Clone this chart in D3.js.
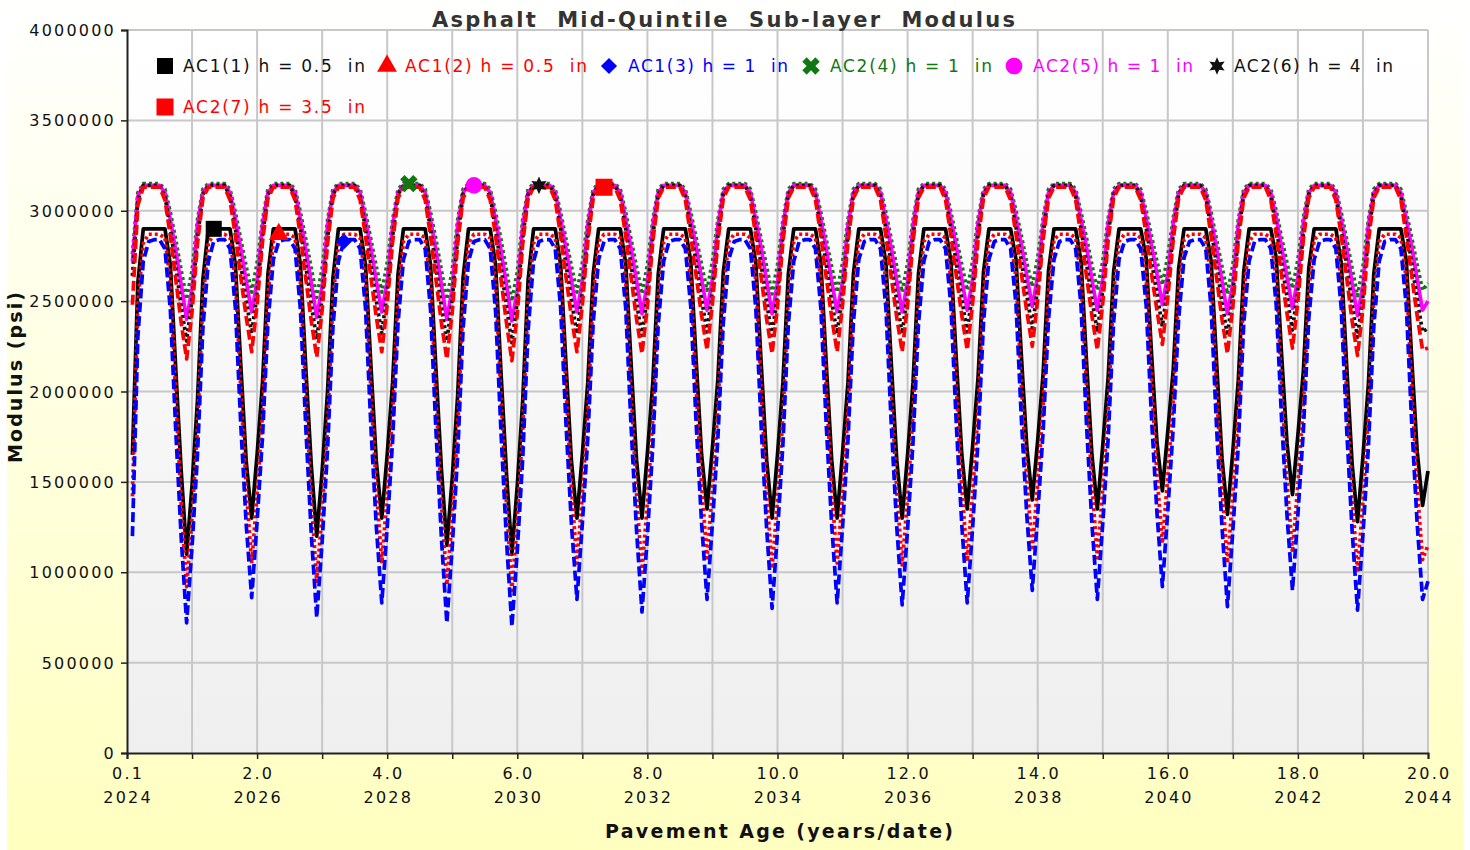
<!DOCTYPE html>
<html><head><meta charset="utf-8">
<script src="https://cdn.jsdelivr.net/npm/d3@7"></script>
<style>
body{margin:0;background:#fff;}
svg{display:block;}
text{font-family:"DejaVu Sans",Verdana,sans-serif;white-space:pre;}
</style></head><body>
<svg id="chart" width="1470" height="850"></svg>
<script>
// ---------------- DATA ----------------
const chartTitle = "Asphalt  Mid-Quintile  Sub-layer  Modulus";
const xAxisTitle = "Pavement Age (years/date)";
const yAxisTitle = "Modulus (psi)";
const seriesLabels = ["AC1(1) h = 0.5  in","AC1(2) h = 0.5  in","AC1(3) h = 1  in","AC2(4) h = 1  in","AC2(5) h = 1  in","AC2(6) h = 4  in","AC2(7) h = 3.5  in"];
const ageTickLabels = ["0.1","2.0","4.0","6.0","8.0","10.0","12.0","14.0","16.0","18.0","20.0"];
const yearTickLabels = ["2024","2026","2028","2030","2032","2034","2036","2038","2040","2042","2044"];
const yTickValues = [0,500000,1000000,1500000,2000000,2500000,3000000,3500000,4000000];
// monthly modulus values (ksi), month 1 .. month 240 of pavement life
const ac1_1 = [
1650,2600,2900,2900,2900,2900,2900,2700,2120,1560,1100,1480,
1950,2620,2900,2900,2900,2900,2900,2700,2140,1610,1300,1650,
2050,2650,2900,2900,2900,2900,2900,2700,2120,1590,1200,1560,
2000,2630,2900,2900,2900,2900,2900,2700,2140,1610,1300,1650,
2050,2650,2900,2900,2900,2900,2900,2700,2120,1570,1150,1520,
1980,2630,2900,2900,2900,2900,2900,2700,2100,1550,1100,1480,
1950,2620,2900,2900,2900,2900,2900,2700,2140,1610,1300,1650,
2050,2650,2900,2900,2900,2900,2900,2710,2150,1620,1300,1660,
2050,2650,2900,2900,2900,2900,2900,2720,2170,1650,1350,1690,
2070,2660,2900,2900,2900,2900,2900,2710,2150,1620,1300,1650,
2050,2650,2900,2900,2900,2900,2900,2710,2150,1620,1300,1660,
2050,2650,2900,2900,2900,2900,2900,2710,2150,1620,1300,1650,
2050,2650,2900,2900,2900,2900,2900,2720,2170,1650,1350,1700,
2080,2660,2900,2900,2900,2900,2900,2730,2190,1690,1400,1730,
2100,2670,2900,2900,2900,2900,2900,2720,2170,1650,1350,1700,
2080,2660,2900,2900,2900,2900,2900,2740,2210,1720,1450,1780,
2120,2680,2900,2900,2900,2900,2900,2720,2160,1630,1320,1670,
2060,2660,2900,2900,2900,2900,2900,2740,2200,1710,1430,1760,
2110,2680,2900,2900,2900,2900,2900,2710,2140,1600,1280,1640,
2040,2650,2900,2900,2900,2900,2900,2720,2180,1670,1370,1560];
const ac1_2 = [
1420,2480,2820,2870,2870,2870,2850,2600,1970,1380,920,1300,
1800,2500,2820,2870,2870,2870,2850,2610,2000,1460,1050,1430,
1880,2530,2830,2870,2870,2870,2850,2600,1980,1410,950,1340,
1820,2510,2820,2870,2870,2870,2850,2610,2000,1460,1050,1430,
1880,2530,2830,2870,2870,2870,2850,2600,1970,1390,930,1310,
1800,2500,2820,2870,2870,2870,2850,2600,1960,1380,900,1290,
1790,2500,2820,2870,2870,2870,2850,2610,2000,1460,1050,1430,
1880,2530,2830,2870,2870,2870,2850,2610,1990,1430,1000,1390,
1850,2520,2830,2870,2870,2870,2850,2620,2010,1480,1080,1460,
1900,2540,2830,2870,2870,2870,2850,2610,1990,1440,1020,1400,
1860,2520,2830,2870,2870,2870,2850,2610,2000,1460,1050,1430,
1880,2530,2830,2870,2870,2870,2850,2610,2000,1450,1040,1420,
1870,2530,2830,2870,2870,2870,2850,2620,2010,1470,1060,1440,
1890,2540,2830,2870,2870,2870,2850,2630,2030,1510,1120,1490,
1920,2550,2840,2870,2870,2870,2850,2620,2020,1490,1080,1460,
1900,2540,2830,2870,2870,2870,2850,2640,2050,1540,1160,1530,
1950,2560,2840,2870,2870,2870,2850,2610,2000,1460,1050,1430,
1880,2530,2830,2870,2870,2870,2850,2630,2030,1500,1110,1490,
1920,2550,2840,2870,2870,2870,2850,2610,1980,1430,1000,1390,
1850,2520,2830,2870,2870,2870,2850,2620,2010,1470,1070,1150];
const ac1_3 = [
1200,2300,2720,2830,2840,2840,2790,2450,1780,1190,720,1140,
1650,2350,2720,2830,2840,2840,2790,2460,1810,1260,860,1280,
1750,2380,2730,2830,2840,2840,2790,2450,1790,1210,750,1170,
1680,2360,2720,2830,2840,2840,2790,2460,1800,1250,830,1250,
1730,2380,2730,2830,2840,2840,2790,2450,1780,1190,720,1140,
1650,2350,2720,2830,2840,2840,2790,2440,1770,1180,700,1120,
1630,2340,2720,2830,2840,2840,2790,2460,1810,1260,850,1270,
1740,2380,2730,2830,2840,2840,2790,2460,1800,1230,780,1200,
1700,2370,2720,2830,2840,2840,2790,2470,1820,1270,850,1270,
1740,2380,2730,2830,2840,2840,2790,2460,1800,1240,800,1220,
1710,2370,2720,2830,2840,2840,2790,2460,1810,1260,830,1250,
1730,2380,2730,2830,2840,2840,2790,2460,1810,1250,820,1240,
1720,2370,2720,2830,2840,2840,2790,2470,1810,1260,830,1250,
1730,2380,2730,2830,2840,2840,2790,2480,1840,1310,900,1320,
1780,2400,2730,2830,2840,2840,2790,2470,1820,1270,850,1270,
1740,2380,2730,2830,2840,2840,2790,2480,1850,1330,920,1340,
1800,2400,2740,2830,2840,2840,2790,2460,1800,1250,810,1230,
1700,2370,2720,2830,2840,2840,2790,2480,1840,1310,900,1320,
1780,2400,2730,2830,2840,2840,2790,2460,1790,1230,790,1210,
1690,2360,2720,2830,2840,2840,2790,2470,1820,1270,850,950];
const ac2_4 = [
2760,3100,3150,3150,3150,3150,3120,2990,2840,2670,2510,2670,
2950,3120,3150,3150,3150,3150,3120,2990,2840,2690,2550,2710,
2950,3120,3150,3150,3150,3150,3120,2990,2840,2680,2520,2680,
2950,3120,3150,3150,3150,3150,3120,2990,2840,2690,2550,2710,
2950,3120,3150,3150,3150,3150,3120,2990,2840,2670,2510,2670,
2950,3120,3150,3150,3150,3150,3120,2990,2840,2670,2500,2660,
2950,3120,3150,3150,3150,3150,3120,2990,2840,2690,2550,2710,
2950,3120,3150,3150,3150,3150,3120,2990,2840,2690,2540,2700,
2950,3120,3150,3150,3150,3150,3120,2990,2850,2700,2560,2720,
2950,3120,3150,3150,3150,3150,3120,2990,2840,2690,2540,2700,
2950,3120,3150,3150,3150,3150,3120,2990,2840,2690,2550,2710,
2950,3120,3150,3150,3150,3150,3120,2990,2840,2690,2550,2710,
2950,3120,3150,3150,3150,3150,3120,2990,2850,2700,2560,2720,
2960,3120,3150,3150,3150,3150,3120,3000,2860,2710,2580,2740,
2960,3120,3150,3150,3150,3150,3120,2990,2850,2700,2560,2720,
2960,3120,3150,3150,3150,3150,3120,3000,2860,2720,2590,2750,
2960,3120,3150,3150,3150,3150,3120,2990,2840,2690,2540,2700,
2950,3120,3150,3150,3150,3150,3120,3000,2850,2710,2570,2730,
2960,3120,3150,3150,3150,3150,3120,2990,2840,2680,2530,2690,
2950,3120,3150,3150,3150,3150,3120,2990,2850,2700,2560,2600];
const ac2_5 = [
2720,3080,3140,3140,3140,3140,3100,2950,2780,2590,2400,2570,
2920,3100,3140,3140,3140,3140,3100,2950,2790,2610,2440,2610,
2920,3100,3140,3140,3140,3140,3100,2950,2780,2600,2410,2580,
2920,3100,3140,3140,3140,3140,3100,2950,2790,2610,2440,2610,
2920,3100,3140,3140,3140,3140,3100,2950,2780,2590,2400,2570,
2920,3100,3140,3140,3140,3140,3100,2950,2780,2590,2390,2560,
2920,3100,3140,3140,3140,3140,3100,2950,2790,2610,2440,2610,
2920,3100,3140,3140,3140,3140,3100,2950,2790,2610,2430,2600,
2920,3100,3140,3140,3140,3140,3100,2950,2800,2620,2450,2620,
2920,3100,3140,3140,3140,3140,3100,2950,2790,2610,2430,2600,
2920,3100,3140,3140,3140,3140,3100,2950,2790,2610,2440,2610,
2920,3100,3140,3140,3140,3140,3100,2950,2790,2610,2440,2610,
2920,3100,3140,3140,3140,3140,3100,2950,2800,2620,2450,2620,
2930,3100,3140,3140,3140,3140,3100,2960,2810,2640,2470,2640,
2930,3100,3140,3140,3140,3140,3100,2950,2800,2620,2450,2620,
2930,3100,3140,3140,3140,3140,3100,2960,2810,2650,2480,2650,
2930,3100,3140,3140,3140,3140,3100,2950,2790,2610,2430,2600,
2920,3100,3140,3140,3140,3140,3100,2960,2800,2630,2460,2630,
2930,3100,3140,3140,3140,3140,3100,2950,2790,2600,2420,2590,
2920,3100,3140,3140,3140,3140,3100,2950,2800,2620,2450,2500];
const ac2_6 = [
2640,3060,3140,3140,3140,3140,3080,2900,2690,2470,2280,2510,
2850,3090,3140,3140,3140,3140,3080,2900,2700,2500,2320,2550,
2860,3090,3140,3140,3140,3140,3080,2900,2690,2480,2290,2520,
2850,3090,3140,3140,3140,3140,3080,2900,2700,2500,2320,2550,
2860,3090,3140,3140,3140,3140,3080,2900,2690,2470,2280,2510,
2850,3090,3140,3140,3140,3140,3080,2900,2690,2470,2270,2500,
2850,3090,3140,3140,3140,3140,3080,2900,2700,2500,2320,2550,
2860,3090,3140,3140,3140,3140,3080,2900,2700,2490,2310,2540,
2860,3090,3140,3140,3140,3140,3080,2900,2710,2510,2330,2560,
2860,3090,3140,3140,3140,3140,3080,2900,2700,2490,2310,2540,
2860,3090,3140,3140,3140,3140,3080,2900,2700,2500,2320,2550,
2860,3090,3140,3140,3140,3140,3080,2900,2700,2500,2320,2550,
2860,3090,3140,3140,3140,3140,3080,2900,2710,2510,2330,2560,
2870,3090,3140,3140,3140,3140,3080,2910,2720,2530,2350,2580,
2870,3090,3140,3140,3140,3140,3080,2900,2710,2510,2330,2560,
2870,3090,3140,3140,3140,3140,3080,2910,2720,2540,2360,2590,
2870,3090,3140,3140,3140,3140,3080,2900,2700,2490,2310,2540,
2860,3090,3140,3140,3140,3140,3080,2910,2710,2520,2340,2570,
2870,3090,3140,3140,3140,3140,3080,2900,2700,2480,2300,2530,
2860,3090,3140,3140,3140,3140,3080,2900,2710,2510,2330,2350];
const ac2_7 = [
2480,3030,3130,3130,3130,3130,3060,2860,2620,2380,2180,2440,
2820,3070,3130,3130,3130,3130,3060,2860,2630,2410,2220,2480,
2830,3070,3130,3130,3130,3130,3060,2860,2620,2390,2190,2450,
2820,3070,3130,3130,3130,3130,3060,2860,2630,2410,2220,2480,
2830,3070,3130,3130,3130,3130,3060,2860,2620,2380,2180,2440,
2820,3070,3130,3130,3130,3130,3060,2860,2620,2380,2170,2430,
2820,3070,3130,3130,3130,3130,3060,2860,2630,2410,2220,2480,
2830,3070,3130,3130,3130,3130,3060,2860,2630,2400,2210,2470,
2830,3070,3130,3130,3130,3130,3060,2860,2640,2420,2230,2490,
2830,3070,3130,3130,3130,3130,3060,2860,2630,2400,2210,2470,
2830,3070,3130,3130,3130,3130,3060,2860,2630,2410,2220,2480,
2830,3070,3130,3130,3130,3130,3060,2860,2630,2410,2220,2480,
2830,3070,3130,3130,3130,3130,3060,2860,2640,2420,2230,2490,
2840,3070,3130,3130,3130,3130,3060,2870,2650,2440,2250,2510,
2840,3070,3130,3130,3130,3130,3060,2860,2640,2420,2230,2490,
2840,3070,3130,3130,3130,3130,3060,2870,2650,2450,2260,2520,
2840,3070,3130,3130,3130,3130,3060,2860,2630,2400,2210,2470,
2830,3070,3130,3130,3130,3130,3060,2870,2640,2430,2240,2500,
2840,3070,3130,3130,3130,3130,3060,2860,2630,2390,2200,2460,
2830,3070,3130,3130,3130,3130,3060,2860,2640,2420,2230,2240];
const seriesValues = [ac1_1, ac1_2, ac1_3, ac2_4, ac2_5, ac2_6, ac2_7];
// index of the data point carrying each series' on-curve marker
const markerIndex = [15, 27, 39, 51, 63, 75, 87];

// ---------------- STYLE ----------------
const colors = ["#000000","#ff0000","#0000ff","#117711","#ff00ff","#111111","#ff0000"];
const dashes = [null,"3,3","10,4","3,3",null,"3,3","10,4"];
const textColors = ["#111","#ff0000","#0000ff","#117711","#ff00ff","#111","#ff0000"];

const star6 = {draw(ctx, size){
  const R = Math.sqrt(size)/1.6, r = R*0.5;
  for(let i=0;i<12;i++){
    const a = -Math.PI/2 + i*Math.PI/6, rr = i%2?r:R;
    const px = rr*Math.cos(a), py = rr*Math.sin(a);
    if(i===0) ctx.moveTo(px,py); else ctx.lineTo(px,py);
  }
  ctx.closePath();
}};
const markers = [
  {type:d3.symbolSquare, size:256, rot:0},
  {type:d3.symbolTriangle, size:170, rot:0},
  {type:d3.symbolSquare, size:130, rot:45},
  {type:d3.symbolCross, size:190, rot:45},
  {type:d3.symbolCircle, size:220, rot:0},
  {type:star6, size:200, rot:0},
  {type:d3.symbolSquare, size:290, rot:0}
];

const svg = d3.select("#chart");
const L=127, R=1428, T=30, B=753;
const x = d3.scaleLinear().domain([0,20]).range([L,R]);
const y = d3.scaleLinear().domain([0,4000000]).range([B,T]);

const defs = svg.append("defs");
const bg = defs.append("linearGradient").attr("id","bg").attr("x1",0).attr("y1",0).attr("x2",0).attr("y2",1);
bg.append("stop").attr("offset","0%").attr("stop-color","#ffffff");
bg.append("stop").attr("offset","100%").attr("stop-color","#ffffc0");
const pg = defs.append("linearGradient").attr("id","pg").attr("x1",0).attr("y1",0).attr("x2",0).attr("y2",1);
pg.append("stop").attr("offset","0%").attr("stop-color","#ffffff");
pg.append("stop").attr("offset","100%").attr("stop-color","#efefef");

svg.append("rect").attr("x",7).attr("y",0).attr("width",1456).attr("height",850).attr("fill","url(#bg)");
svg.append("rect").attr("x",L).attr("y",T).attr("width",R-L).attr("height",B-T).attr("fill","url(#pg)");

// grid
const years = d3.range(0,21);
svg.append("g").selectAll("line").data(years.slice(1)).join("line")
  .attr("x1",d=>x(d)).attr("x2",d=>x(d)).attr("y1",T).attr("y2",B)
  .attr("stroke","#c8c8c8").attr("stroke-width",2);
svg.append("g").selectAll("line").data(yTickValues.slice(1)).join("line")
  .attr("x1",L).attr("x2",R).attr("y1",d=>y(d)).attr("y2",d=>y(d))
  .attr("stroke","#c8c8c8").attr("stroke-width",2);

// lines
const line = d3.line().x((d,i)=>x((i+1)/12)).y(d=>y(d*1000));
const plot = svg.append("g");
seriesValues.forEach((vals,s)=>{
  plot.append("path").datum(vals).attr("d",line)
    .attr("fill","none").attr("stroke",colors[s]).attr("stroke-width",3.7)
    .attr("stroke-dasharray",dashes[s]).attr("stroke-linejoin","round");
});
// on-curve markers
seriesValues.forEach((vals,s)=>{
  const k = markerIndex[s], m = markers[s];
  plot.append("path").attr("d",d3.symbol().type(m.type).size(m.size)())
    .attr("transform",`translate(${x((k+1)/12)},${y(vals[k]*1000)}) rotate(${m.rot})`)
    .attr("fill",colors[s]);
});

// axes
const yAxis = d3.axisLeft(y).tickValues(yTickValues).tickSize(6).tickPadding(5).tickFormat(d3.format("d"));
const gy = svg.append("g").attr("transform",`translate(${L},0)`).call(yAxis);
gy.select(".domain").attr("stroke","#222").attr("stroke-width",2);
gy.selectAll(".tick line").attr("stroke","#222").attr("stroke-width",1.5);
gy.selectAll(".tick text").attr("font-size",16).attr("fill","#111").style("letter-spacing","2.2px")
  .attr("font-family","DejaVu Sans").attr("dy","0.35em");

const xAxis = d3.axisBottom(x).tickValues(years).tickSize(6).tickFormat("");
const gx = svg.append("g").attr("transform",`translate(0,${B})`).call(xAxis);
gx.select(".domain").attr("stroke","#222").attr("stroke-width",2);
gx.selectAll(".tick line").attr("stroke","#222").attr("stroke-width",1.5);
const xl = svg.append("g").attr("font-size",16).attr("fill","#111").attr("text-anchor","middle").style("letter-spacing","2.2px");
ageTickLabels.forEach((lab,i)=>{
  xl.append("text").attr("x",x(i*2)+1.1).attr("y",779).text(lab);
  xl.append("text").attr("x",x(i*2)+1.1).attr("y",803).text(yearTickLabels[i]);
});

// titles
svg.append("text").attr("x",432).attr("y",27).attr("font-size",21).attr("font-weight","bold")
  .attr("fill","#333").attr("textLength",583).attr("lengthAdjust","spacing").text(chartTitle);
svg.append("text").attr("x",605).attr("y",838).attr("font-size",19).attr("font-weight","bold")
  .attr("fill","#111").attr("textLength",348).attr("lengthAdjust","spacing").text(xAxisTitle);
svg.append("text").attr("transform","translate(22,463) rotate(-90)").attr("font-size",19).attr("font-weight","bold")
  .attr("fill","#111").attr("textLength",171).attr("lengthAdjust","spacing").text(yAxisTitle);

// legend
const legendPos = [
  {mx:165,tx:183,tw:182,y:66},{mx:387,tx:405,tw:182,y:66},{mx:609,tx:628,tw:160,y:66},
  {mx:811,tx:830,tw:162,y:66},{mx:1014,tx:1033,tw:160,y:66},{mx:1217,tx:1234,tw:159,y:66},
  {mx:165,tx:183,tw:182,y:107}];
const lg = svg.append("g");
seriesLabels.forEach((lab,s)=>{
  const p = legendPos[s], m = markers[s];
  lg.append("path").attr("d",d3.symbol().type(m.type).size(m.size)())
    .attr("transform",`translate(${p.mx},${p.y}) rotate(${m.rot})`).attr("fill",colors[s]);
  lg.append("text").attr("x",p.tx).attr("y",p.y+6).attr("font-size",17).attr("fill",textColors[s])
    .attr("textLength",p.tw).attr("lengthAdjust","spacing").text(lab);
});
</script>
</body></html>
